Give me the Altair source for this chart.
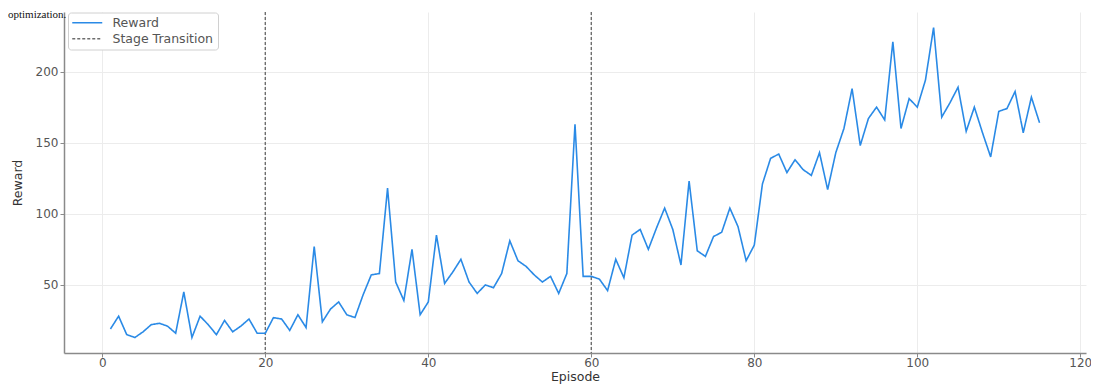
import altair as alt
import pandas as pd

# ---- data ----
episodes = list(range(1, 116))
rewards = [19, 28, 15, 13, 17, 22, 23, 21, 16, 45,
           13, 28, 22, 15, 25, 17, 21, 26, 16, 16,
           27, 26, 18, 29, 20, 77, 24, 33, 38, 29,
           27, 43, 57, 58, 118, 52, 39, 75, 29, 38,
           85, 51, 59, 68, 52, 44, 50, 48, 58, 81,
           67, 63, 57, 52, 56, 44, 58, 163, 56, 56,
           54, 46, 68, 55, 85, 89, 75, 90, 104, 89,
           64, 123, 74, 70, 84, 87, 104, 91, 67, 78,
           121, 139, 142, 129, 138, 131, 127, 143, 117, 143,
           160, 188, 148, 167, 175, 166, 221, 160, 181, 175,
           194, 231, 168, 178, 189, 158, 175, 157, 140, 172,
           174, 186, 157, 182, 164]
transitions = [20, 60]
series_names = ["Reward", "Stage Transition"]
x_ticks = [0, 20, 40, 60, 80, 100, 120]
y_ticks = [50, 100, 150, 200]
caption = ["optimization."]

df_line = pd.DataFrame({"Episode": episodes, "Reward": rewards, "Series": series_names[0]})
df_rule = pd.DataFrame({"Episode": transitions, "Series": series_names[1]})
df_cap = pd.DataFrame({"t": caption})

FONT = "DejaVu Sans"
GRAY = "#8a8a8a"

xscale = alt.Scale(domain=[-4.7, 120.7], nice=False, zero=False)
yscale = alt.Scale(domain=[2.1, 241.9], nice=False, zero=False)

color_scale = alt.Scale(domain=series_names, range=["#2a8ae6", "#6e6e6e"])
dash_scale = alt.Scale(domain=series_names, range=[[1, 0], [3, 2]])

legend = alt.Legend(
    title=None, orient="none", legendX=4, legendY=0.5, direction="vertical",
    fillColor="white", strokeColor="#d0d0d0", cornerRadius=3, padding=4,
    labelFont=FONT, labelFontSize=12.5, labelColor="#555", labelLimit=300,
    symbolType="M-3,0H3", symbolSize=100, symbolStrokeWidth=1.5,
    symbolOffset=9, labelOffset=19, rowPadding=3,
)

xaxis = alt.Axis(values=x_ticks, title="Episode", grid=True, labelPadding=0, titlePadding=2)
yaxis = alt.Axis(values=y_ticks, title="Reward", grid=True, labelPadding=2, titlePadding=11)

line = alt.Chart(df_line).mark_line(strokeWidth=1.6).encode(
    x=alt.X("Episode:Q", scale=xscale, axis=xaxis),
    y=alt.Y("Reward:Q", scale=yscale, axis=yaxis),
    color=alt.Color("Series:N", scale=color_scale, legend=legend),
    strokeDash=alt.StrokeDash("Series:N", scale=dash_scale, legend=legend),
)

rules = alt.Chart(df_rule).mark_rule(strokeWidth=1.4).encode(
    x=alt.X("Episode:Q", scale=xscale),
    color=alt.Color("Series:N", scale=color_scale, legend=legend),
    strokeDash=alt.StrokeDash("Series:N", scale=dash_scale, legend=legend),
)

cap = alt.Chart(df_cap).mark_text(
    align="left", baseline="alphabetic", font="Liberation Serif", fontSize=11, color="#111"
).encode(x=alt.value(-56), y=alt.value(6), text="t:N")

chart = alt.layer(rules, line, cap).properties(
    width=1022, height=341,
    autosize=alt.AutoSizeParams(type="none"),
    padding={"left": 56, "top": 4, "right": 5, "bottom": 32},
).configure_view(stroke=None).configure_axis(
    domainColor=GRAY, domainWidth=1.5, tickColor=GRAY, tickSize=4, tickWidth=1,
    gridColor="#ececec", gridWidth=1,
    labelFont=FONT, labelFontSize=12, labelColor="#555",
    titleFont=FONT, titleFontSize=12.5, titleColor="#333", titleFontWeight="normal",
)

chart.save("out.html", embed_options={"renderer": "svg", "actions": False})
